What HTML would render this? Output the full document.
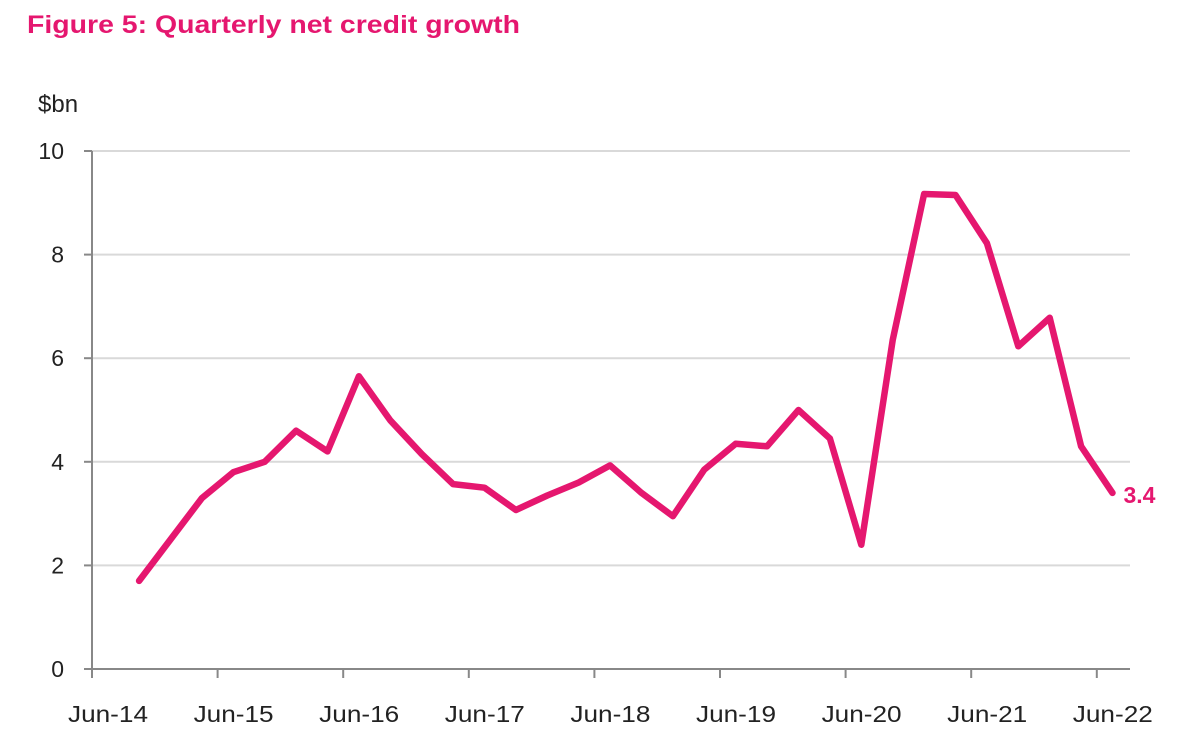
<!DOCTYPE html>
<html><head><meta charset="utf-8"><style>
body{margin:0;background:#fff;font-family:"Liberation Sans",sans-serif;}
</style></head><body>
<svg width="1181" height="737" viewBox="0 0 1181 737">
<text x="27" y="33" font-size="25" font-weight="bold" fill="#E5176F" textLength="493" lengthAdjust="spacingAndGlyphs">Figure 5:  Quarterly net credit growth</text>
<text x="38" y="112" font-size="24" fill="#222">$bn</text>
<g id="grid"></g><g id="axes"></g><g id="series"></g>
</svg>
<script>
const yTicks=[0,2,4,6,8,10];
const xLabels=["Jun-14","Jun-15","Jun-16","Jun-17","Jun-18","Jun-19","Jun-20","Jun-21","Jun-22"];
const values=[1.7,2.5,3.3,3.8,4.0,4.6,4.2,5.65,4.8,4.15,3.57,3.5,3.07,3.35,3.6,3.93,3.4,2.95,3.85,4.35,4.3,5.0,4.45,2.4,6.35,9.17,9.15,8.22,6.23,6.78,4.3,3.4];
const lastLabel="3.4";
const NS="http://www.w3.org/2000/svg";
const x0=92,qw=31.4,xEnd=1130;
const yS=v=>669-v*51.8;
const xS=i=>x0+(i+1.5)*qw;
function mk(t,a,p){const e=document.createElementNS(NS,t);for(const k in a)e.setAttribute(k,a[k]);p.appendChild(e);return e;}
const g=document.getElementById('grid'),ax=document.getElementById('axes'),s=document.getElementById('series');
yTicks.forEach(v=>{
 if(v>0){const l=mk('line',{x1:x0,x2:xEnd,y1:yS(v),y2:yS(v),stroke:'#d9d9d9','stroke-width':2},g);
 
 }
 const tk=mk('line',{x1:x0-8,x2:x0,y1:yS(v),y2:yS(v),stroke:'#888','stroke-width':2},ax);
 
 
 const t=mk('text',{x:x0-28,y:yS(v)+8,'font-size':23,fill:'#222','text-anchor':'end'},ax);t.textContent=v;
 
 
});
const ya=mk('line',{x1:x0,x2:x0,y1:yS(10),y2:yS(0),stroke:'#888','stroke-width':2},ax);


const xa=mk('line',{x1:x0-8,x2:xEnd,y1:yS(0),y2:yS(0),stroke:'#888','stroke-width':2},ax);


xLabels.forEach((lb,i)=>{
 const x=x0+i*4*qw;
 const tk=mk('line',{x1:x,x2:x,y1:yS(0),y2:yS(0)+9,stroke:'#888','stroke-width':2},ax);
 
 
 const t=mk('text',{x:x+16,y:722,'font-size':23,fill:'#222','text-anchor':'middle',textLength:80,lengthAdjust:'spacingAndGlyphs'},ax);t.textContent=lb;
 
 
});
const pts=values.map((v,i)=>xS(i).toFixed(1)+','+yS(v).toFixed(1)).join(' ');
const pl=mk('polyline',{points:pts,fill:'none',stroke:'#E5176F','stroke-width':6.5,'stroke-linejoin':'round','stroke-linecap':'round'},s);


const li=values.length-1;
const lt=mk('text',{x:xS(li)+11,y:yS(values[li])+10,'font-size':23,'font-weight':'bold',fill:'#E5176F'},s);lt.textContent=lastLabel;


</script>
</body></html>
